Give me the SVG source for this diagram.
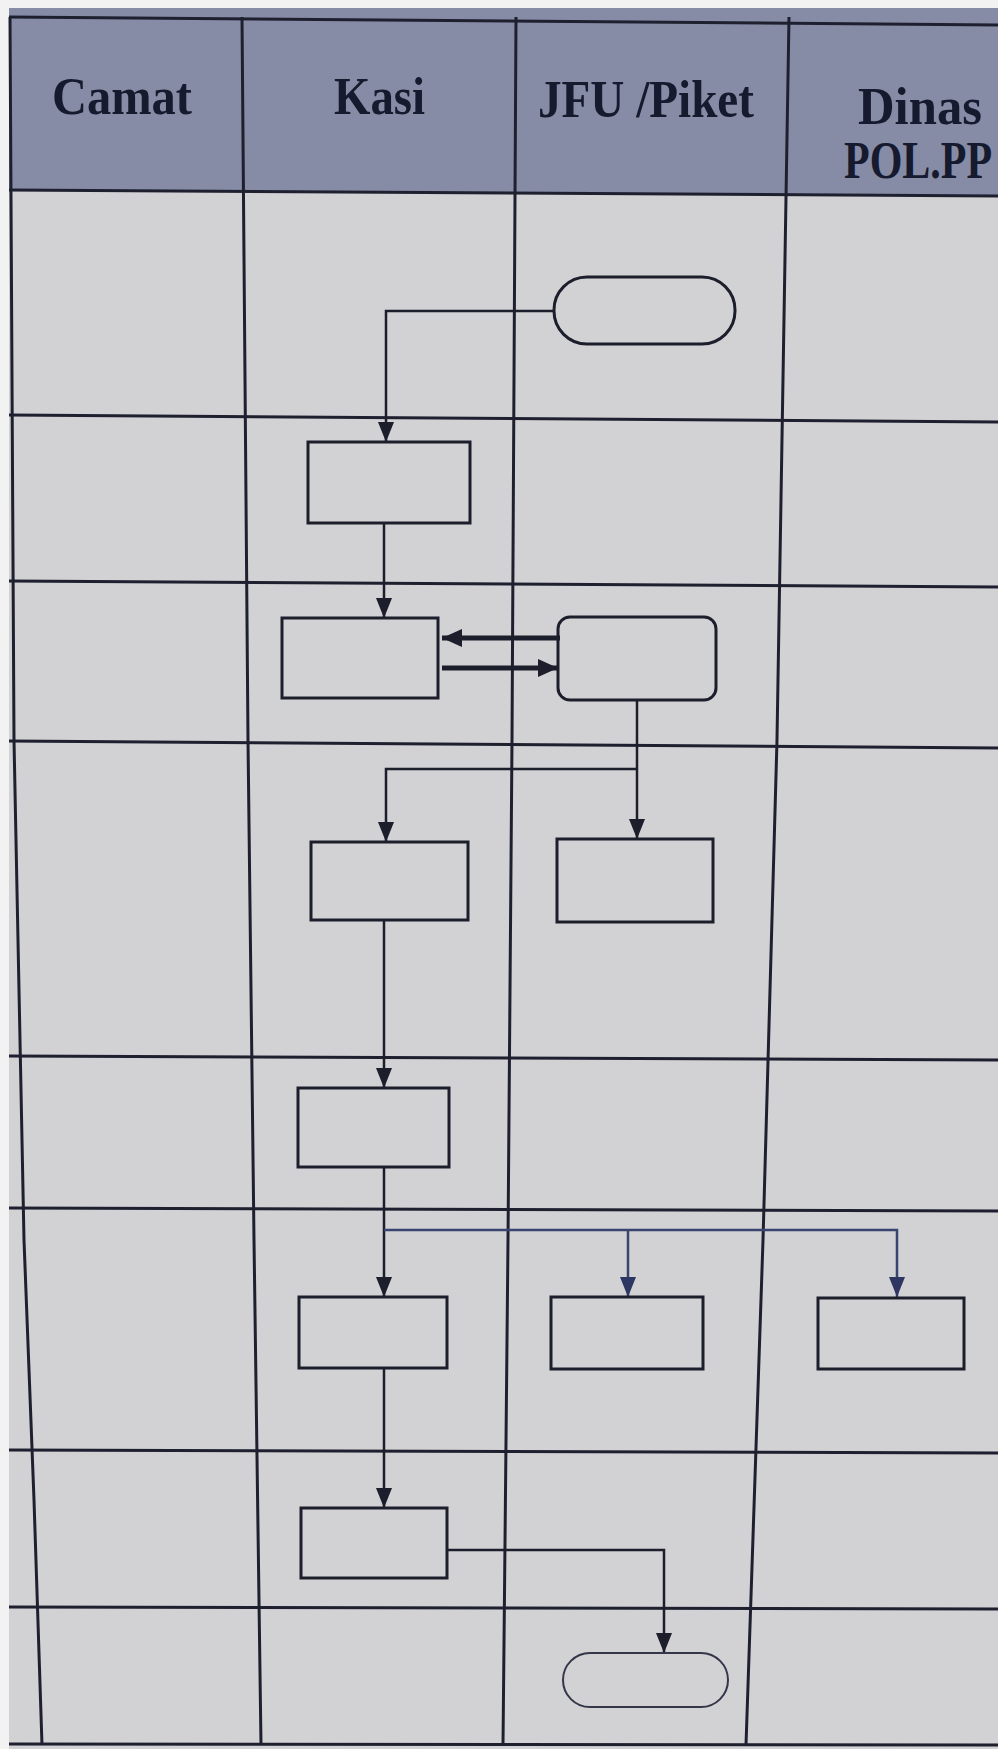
<svg xmlns="http://www.w3.org/2000/svg" width="998" height="1749" viewBox="0 0 998 1749">
<style>
.grid{fill:none;stroke:#1e2030;stroke-width:3;stroke-linejoin:round}
.hdr{font-family:"Liberation Serif","Times New Roman",serif;font-weight:bold;font-size:48px;fill:#161a2e}
.box{fill:none;stroke:#1c1e2c;stroke-width:3}
.conn{fill:none;stroke:#1c1e2c;stroke-width:2.5}
.blue{stroke:#3a4470}
.thick{stroke-width:5}
</style>
<defs>
<marker id="ah" viewBox="0 0 20 16" refX="20" refY="8" markerWidth="20" markerHeight="16" markerUnits="userSpaceOnUse" orient="auto">
<path d="M0,0 L20,8 L0,16 z" fill="#1c1e2c"/>
</marker>
<marker id="ahb" viewBox="0 0 20 16" refX="20" refY="8" markerWidth="20" markerHeight="16" markerUnits="userSpaceOnUse" orient="auto">
<path d="M0,0 L20,8 L0,16 z" fill="#2e3762"/>
</marker>
<marker id="aht" viewBox="0 0 20 18" refX="20" refY="9" markerWidth="20" markerHeight="18" markerUnits="userSpaceOnUse" orient="auto">
<path d="M0,0 L20,9 L0,18 z" fill="#1c1e2c"/>
</marker>
</defs>
<rect x="0" y="0" width="998" height="1749" fill="#f2f2f2"/>
<g id="table">
<polygon points="9,8 998,8 998,1749 9,1749" fill="#d2d1d4"/>
<polygon points="9,8 998,8 998,196 9,190" fill="#878ca6"/>
<polyline class="grid" points="9,17 998,25"/>
<polyline class="grid" points="9,190 998,196"/>
<polyline class="grid" points="9,415 998,422"/>
<polyline class="grid" points="9,581 998,587"/>
<polyline class="grid" points="9,741 998,748"/>
<polyline class="grid" points="9,1056 998,1060"/>
<polyline class="grid" points="9,1208 998,1211"/>
<polyline class="grid" points="9,1450 998,1453"/>
<polyline class="grid" points="9,1607 998,1609"/>
<polyline class="grid" points="9,1744 998,1745"/>
<polyline class="grid" points="10,17 14,740 24,1240 34,1500 42,1745"/>
<polyline class="grid" points="242,17 248,740 254,1240 261,1745"/>
<polyline class="grid" points="516,17 512,740 508,1240 503,1745"/>
<polyline class="grid" points="789,17 777,740 763,1240 746,1745"/>
</g>
<g id="headers">
<text class="hdr" transform="translate(52,114) scale(1,1.1)" textLength="140" lengthAdjust="spacingAndGlyphs">Camat</text>
<text class="hdr" transform="translate(334,114) scale(1,1.1)" textLength="91" lengthAdjust="spacingAndGlyphs">Kasi</text>
<text class="hdr" transform="translate(538,117) scale(1,1.1)" textLength="216" lengthAdjust="spacingAndGlyphs">JFU /Piket</text>
<text class="hdr" transform="translate(858,124) scale(1,1.1)" textLength="124" lengthAdjust="spacingAndGlyphs">Dinas</text>
<text class="hdr" transform="translate(844,178) scale(1,1.25)" style="font-size:42px">POL.PP</text>
</g>
<g id="connectors">
<path class="conn" d="M554,311 H386 V442" marker-end="url(#ah)"/>
<path class="conn" d="M384,523 V618" marker-end="url(#ah)"/>
<path class="conn thick" d="M560,638 H442" marker-end="url(#aht)"/>
<path class="conn thick" d="M442,668 H558" marker-end="url(#aht)"/>
<path class="conn" d="M637,700 V839" marker-end="url(#ah)"/>
<path class="conn" d="M637,769 H386 V842" marker-end="url(#ah)"/>
<path class="conn" d="M384,920 V1088" marker-end="url(#ah)"/>
<path class="conn" d="M384,1167 V1297" marker-end="url(#ah)"/>
<path class="conn blue" d="M384,1230 H897 V1297" marker-end="url(#ahb)"/>
<path class="conn blue" d="M628,1230 V1297" marker-end="url(#ahb)"/>
<path class="conn" d="M384,1368 V1508" marker-end="url(#ah)"/>
<path class="conn" d="M447,1550 H664 V1653" marker-end="url(#ah)"/>
</g>
<g id="start"><rect class="box" x="554" y="277" width="181" height="67" rx="33" ry="33"/></g>
<g id="box1"><rect class="box" x="308" y="442" width="162" height="81"/></g>
<g id="box2"><rect class="box" x="282" y="618" width="156" height="80"/></g>
<g id="box3"><rect class="box" x="558" y="617" width="158" height="83" rx="12" ry="12"/></g>
<g id="box4"><rect class="box" x="311" y="842" width="157" height="78"/></g>
<g id="box5"><rect class="box" x="557" y="839" width="156" height="83"/></g>
<g id="box6"><rect class="box" x="298" y="1088" width="151" height="79"/></g>
<g id="box7"><rect class="box" x="299" y="1297" width="148" height="71"/></g>
<g id="box8"><rect class="box" x="551" y="1297" width="152" height="72"/></g>
<g id="box9"><rect class="box" x="818" y="1298" width="146" height="71"/></g>
<g id="box10"><rect class="box" x="301" y="1508" width="146" height="70"/></g>
<g id="end"><rect class="box" x="563" y="1653" width="165" height="54" rx="27" ry="27" style="stroke:#34364a;stroke-width:2"/></g>
</svg>
